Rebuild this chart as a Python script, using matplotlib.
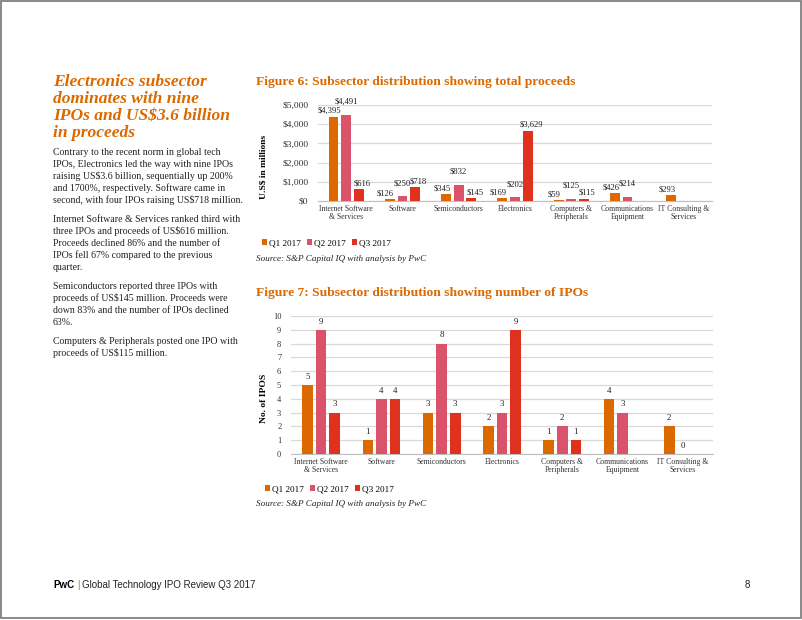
"""PwC Global Technology IPO Review Q3 2017 - page 8, subsector charts."""

import numpy as np
import matplotlib
matplotlib.use("Agg")
import matplotlib.pyplot as plt
from matplotlib.patches import Rectangle
from matplotlib.ticker import FuncFormatter

W, H = 802, 620
ORANGE = "#dc6900"
PINK = "#db536a"
RED = "#e0301e"
SERIF = ["Liberation Serif", "DejaVu Serif"]
SANS = ["Liberation Sans", "DejaVu Sans"]

categories = ["Internet Software\n& Services", "Software", "Semiconductors",
              "Electronics", "Computers &\nPeripherals",
              "Communications\nEquipment", "IT Consulting &\nServices"]
quarters = ["Q1 2017", "Q2 2017", "Q3 2017"]

# proceeds, US$ millions (None = no bar)
proceeds_q1 = [4395, 126, 345, 169, 59, 426, 293]
proceeds_q2 = [4491, 250, 832, 202, 125, 214, None]
proceeds_q3 = [616, 718, 145, 3629, 115, None, None]

# number of IPOs
ipos_q1 = [5, 1, 3, 2, 1, 4, 2]
ipos_q2 = [9, 4, 8, 3, 2, 3, 0]
ipos_q3 = [3, 4, 3, 9, 1, None, None]

heading = ["Electronics subsector", "dominates with nine",
           "IPOs and US$3.6 billion", "in proceeds"]
paragraphs = [
    ["Contrary to the recent norm in global tech",
     "IPOs, Electronics led the way with nine IPOs",
     "raising US$3.6 billion, sequentially up 200%",
     "and 1700%, respectively. Software came in",
     "second, with four IPOs raising US$718 million."],
    ["Internet Software & Services ranked third with",
     "three IPOs and proceeds of US$616 million.",
     "Proceeds declined 86% and the number of",
     "IPOs fell 67% compared to the previous",
     "quarter."],
    ["Semiconductors reported three IPOs with",
     "proceeds of US$145 million. Proceeds were",
     "down 83% and the number of IPOs declined",
     "63%."],
    ["Computers & Peripherals posted one IPO with",
     "proceeds of US$115 million."],
]
source = "Source: S&P Capital IQ with analysis by PwC"


def box(l, t, r, b):
    return [l / W, 1 - b / H, (r - l) / W, (b - t) / H]


def ftext(fig, x, y, s, **kw):
    kw.setdefault("family", SERIF)
    kw.setdefault("va", "baseline")
    return fig.text(x / W, 1 - y / H, s, **kw)


def grouped_bars(ax, series, fmt, label_size, pads=(1.5, 1.5, 1.5),
                 shifts=(0, 0, 0)):
    x = np.arange(len(categories))
    colors = [ORANGE, PINK, RED]
    for k, (vals, col, name) in enumerate(zip(series, colors, quarters)):
        idx = [i for i, v in enumerate(vals) if v is not None]
        v = [vals[i] for i in idx]
        bars = ax.bar(x[idx] + (k - 1) * 0.225, v, width=0.175, color=col,
                      label=name, zorder=3)
        anns = ax.bar_label(bars, labels=[fmt.format(a) for a in v],
                            padding=pads[k], fontsize=label_size,
                            family=SERIF, color="#222222")
        for a in anns:
            a.xyann = (shifts[k], pads[k])
    ax.set_xlim(-0.5, len(categories) - 0.5)
    ax.set_xticks(x)
    ax.set_xticklabels(categories, fontsize=5.6, family=SERIF, linespacing=0.95)
    ax.tick_params(axis="x", length=0, pad=3, colors="#333333")
    ax.tick_params(axis="y", length=0, pad=7, colors="#333333")
    for s in ["top", "right", "left"]:
        ax.spines[s].set_visible(False)
    ax.spines["bottom"].set_color("#bfbfbf")
    ax.grid(axis="y", color="#d9d9d9", linewidth=0.9, zorder=0)
    ax.set_axisbelow(True)


def add_legend(fig, ax, x, y):
    ax.legend(loc="center left", bbox_to_anchor=(x / W, 1 - y / H),
              bbox_transform=fig.transFigure, ncol=3, frameon=False,
              prop={"family": SERIF, "size": 6.6}, handlelength=0.55,
              handleheight=0.55, handletextpad=0.2, columnspacing=0.7,
              borderaxespad=0, borderpad=0)


fig = plt.figure(figsize=(W / 100, H / 100), dpi=100)

# page border
fig.patches.append(Rectangle((0.6 / W, 1.6 / H), 800 / W, 617 / H,
                             transform=fig.transFigure, fill=False,
                             edgecolor="#808080", linewidth=1.3))

# left column
for i, line in enumerate(heading):
    ftext(fig, 53, 86 + 17 * i, line, fontsize=12.6, weight="bold",
          style="italic", color=ORANGE)
y = 155
for para in paragraphs:
    for line in para:
        ftext(fig, 53, y, line, fontsize=7.1, color="#222222")
        y += 12
    y += 7

# Figure 6
ftext(fig, 256, 85, "Figure 6: Subsector distribution showing total proceeds",
      fontsize=9.7, weight="bold", color=ORANGE)
ax1 = fig.add_axes(box(318, 105, 712, 201))
grouped_bars(ax1, [proceeds_q1, proceeds_q2, proceeds_q3], "${:,.0f}", 6.2,
             pads=(1.0, 6.5, 1.5), shifts=(-3, 0, 2.5))
ax1.set_ylim(0, 5000)
ax1.set_yticks(range(0, 5001, 1000))
ax1.yaxis.set_major_formatter(FuncFormatter(lambda v, p: f"${v:,.0f}"))
for t in ax1.get_yticklabels():
    t.set_fontsize(6.8)
    t.set_family(SERIF)
ftext(fig, 264, 167, "U.S$ in millions", fontsize=6.8, weight="bold",
      rotation=90, va="center", ha="center")
add_legend(fig, ax1, 262, 243)
ftext(fig, 256, 261, source, fontsize=6.6, style="italic", color="#222222")

# Figure 7
ftext(fig, 256, 296, "Figure 7: Subsector distribution showing number of IPOs",
      fontsize=9.7, weight="bold", color=ORANGE)
ax2 = fig.add_axes(box(291, 316, 713, 454))
grouped_bars(ax2, [ipos_q1, ipos_q2, ipos_q3], "{}", 6.4, pads=(3, 3, 3))
ax2.set_ylim(0, 10)
ax2.set_yticks(range(0, 11))
for t in ax2.get_yticklabels():
    t.set_fontsize(6.0)
    t.set_family(SERIF)
ftext(fig, 264, 398, "No. of IPOS", fontsize=6.8, weight="bold",
      rotation=90, va="center", ha="center")
add_legend(fig, ax2, 265, 489)
ftext(fig, 256, 506, source, fontsize=6.6, style="italic", color="#222222")

# footer
ftext(fig, 53, 588, "PwC", fontsize=7, weight="bold", family=SANS)
ftext(fig, 77, 588, "|", fontsize=7, family=SANS, color=ORANGE)
ftext(fig, 82, 588, "Global Technology IPO Review Q3 2017", fontsize=7,
      family=SANS, color="#222222")
ftext(fig, 745, 588, "8", fontsize=7, family=SANS, color="#222222")

fig.savefig("out.png", dpi=100, facecolor="white")
plt.close(fig)
